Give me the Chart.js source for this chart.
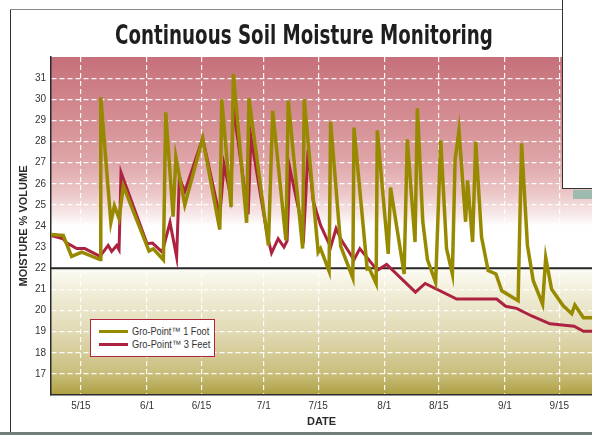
<!DOCTYPE html>
<html lang="en">
<head>
  <meta charset="UTF-8">
  <title>Continuous Soil Moisture Monitoring</title>
  <script src="https://cdn.jsdelivr.net/npm/chart.js@4"></script>
  <style>
  html, body {
    margin: 0;
    padding: 0;
    background: #fff;
    overflow: hidden;
  }
  #page {
    position: relative;
    width: 592px;
    height: 435px;
    font-family: 'Liberation Sans', Arial, sans-serif;
  }
  #dataChart {
    position: absolute;
    left: 0;
    top: 0;
  }
  /* frame and the corner of the next panel */
  .frame-left { position: absolute; left: 10px; top: 9px; width: 1px; height: 424px; background: #333; }
  .frame-top { position: absolute; left: 10px; top: 9px; width: 552px; height: 1px; background: #888; }
  .frame-bottom { position: absolute; left: 0; top: 432px; width: 592px; height: 3px; background: #737d7c; }
  .inset { position: absolute; left: 562px; top: 0; width: 40px; height: 188px; background: #fff;
           border-left: 1.5px solid #333; border-bottom: 1.5px solid #333; }
  .inset-shadow { position: absolute; left: 573px; top: 190px; width: 19px; height: 9px; background: #9fbaaf; }
  #title {
    position: absolute;
    left: 115px;
    top: 21px;
    white-space: nowrap;
    font-family: 'Liberation Sans Narrow', 'DejaVu Sans Condensed', 'Liberation Sans', sans-serif;
    font-weight: bold;
    font-size: 27px;
    line-height: 27px;
    color: #1e1e1e;
    transform-origin: 0 0;
  }
  #legend {
    position: absolute;
    left: 90px;
    top: 319px;
    width: 123px;
    height: 36px;
    background: #fff;
    border: 1px solid #b0243f;
    font-size: 11px;
    color: #333;
  }
  #legend .item { position: absolute; left: 0; height: 13px; line-height: 13px; }
  #legend .swatch { position: absolute; left: 8px; top: 5px; width: 29px; height: 3px; }
  #legend .label { position: absolute; left: 41px; top: 0; white-space: nowrap; transform-origin: 0 50%; }
  </style>
</head>
<body>
  <div id="page">
    <canvas id="dataChart" width="592" height="435"></canvas>
    <div class="frame-left"></div>
    <div class="frame-top"></div>
    <div class="frame-bottom"></div>
    <div class="inset"></div>
    <div class="inset-shadow"></div>
    <div id="title">Continuous Soil Moisture Monitoring</div>
    <div id="legend"></div>
  </div>

  <script>
    // x values are days counted from May 1 (5/15 = 14)
    const tickDays = [14, 31, 45, 61, 75, 92, 106, 123, 137];
    const tickLabels = ['5/15', '6/1', '6/15', '7/1', '7/15', '8/1', '8/15', '9/1', '9/15'];
    const moistureTicks = [17, 18, 19, 20, 21, 22, 23, 24, 25, 26, 27, 28, 29, 30, 31];
    const threshold = 22;

    // Gro-Point 1 Foot
    const footDays = [6.3, 9.45, 11.6, 14.2, 18.9, 19.1, 21.7, 22.6, 23.8, 24.9, 31.5, 32.6, 35.2, 35.8, 37.7,
      38.4, 40.7, 45.3, 49.7, 50.2, 52.6, 53.2, 56.6, 57.2, 62.2, 63.3, 66.7, 67.3, 71.0, 71.4, 75.0, 75.6,
      77.8, 78.2, 80.8, 83.9, 84.2, 87.6, 88.1, 89.9, 90.2, 93.0, 93.6, 97.1, 97.9, 99.9, 100.5, 101.9,
      103.1, 105.2, 106.5, 108.0, 109.5, 110.2, 111.2, 112.9, 113.4, 114.7, 115.5, 117.0, 118.7, 120.7,
      122.2, 126.4, 127.3, 128.8, 130.3, 132.7, 133.5, 135.0, 138.0, 140.2, 141.0, 143.2, 146];
    const footValues = [23.6, 23.55, 22.56, 22.76, 22.41, 30.09, 24.17, 24.96, 24.36, 25.9, 22.81, 22.92, 22.4,
      29.38, 24.44, 27.27, 25.0, 28.15, 23.83, 30.0, 24.9, 31.2, 24.15, 30.05, 23.08, 29.45, 23.32, 29.93,
      22.93, 30.0, 22.76, 22.93, 21.86, 28.93, 23.04, 21.54, 28.66, 21.97, 22.0, 21.28, 28.53, 22.68, 25.82,
      21.73, 28.1, 23.24, 29.57, 24.2, 22.4, 21.33, 28.05, 22.93, 21.73, 27.14, 28.53, 24.2, 26.16, 23.24,
      27.98, 23.48, 21.89, 21.73, 20.93, 20.46, 27.91, 23.08, 21.41, 20.3, 22.5, 21.01, 20.22, 19.85, 20.26,
      19.66, 19.66];

    // Gro-Point 3 Feet
    const feetDays = [6.3, 9.4, 10.3, 12.9, 15.0, 18.9, 21.0, 21.9, 23.2, 23.8, 24.3, 31.0, 32.4, 34.9, 36.9,
      38.6, 39.3, 40.7, 45.3, 49.7, 50.8, 52.5, 53.2, 57.0, 57.7, 61.9, 63.0, 64.7, 66.2, 67.0, 67.7, 71.3,
      72.4, 73.7, 75.6, 78.2, 79.6, 81.0, 84.2, 85.7, 90.2, 92.6, 100.0, 102.5, 110.6, 120.9, 123.2, 126.0,
      129.9, 134.6, 140.8, 143.2, 146];
    const feetValues = [23.55, 23.4, 23.2, 22.93, 22.93, 22.56, 23.08, 22.8, 23.08, 22.88, 26.54, 23.16, 23.19,
      22.76, 24.17, 22.53, 26.3, 25.63, 28.15, 24.44, 26.9, 25.4, 29.6, 24.56, 28.2, 23.56, 22.72, 23.4, 23.0,
      23.3, 26.75, 23.64, 27.6, 25.2, 24.04, 23.0, 23.88, 23.32, 22.4, 22.93, 21.9, 22.18, 20.87, 21.28,
      20.54, 20.54, 20.2, 20.1, 19.74, 19.37, 19.26, 19.02, 19.02];

    const toPoints = (days, vals) => days.map((d, i) => ({ x: d, y: vals[i] }));

    // red-to-white above, white-to-olive below the 22% line
    const zoneBands = {
      id: 'zoneBands',
      beforeDraw(chart) {
        const { ctx, chartArea: a, scales: { y } } = chart;
        const g = ctx.createLinearGradient(0, a.top, 0, a.bottom);
        const stop = (v, c) => {
          const t = (y.getPixelForValue(v) - a.top) / (a.bottom - a.top);
          g.addColorStop(Math.min(1, Math.max(0, t)), c);
        };
        stop(32, '#c6707a');
        stop(29, '#d48e93');
        stop(27, '#dfa6a9');
        stop(25.5, '#ecc8c9');
        stop(24.5, '#f8ebeb');
        stop(24, '#ffffff');
        stop(22, '#ffffff');
        stop(21.99, '#fcfbf4');
        stop(21, '#f2efdc');
        stop(19, '#e1dab4');
        stop(17, '#c9be7c');
        stop(16, '#ae9f40');
        ctx.save();
        ctx.fillStyle = g;
        ctx.fillRect(a.left, a.top, a.right - a.left, a.bottom - a.top);
        ctx.restore();
      },
      beforeDatasetsDraw(chart) {
        const { ctx, chartArea: a, scales: { y } } = chart;
        const py = y.getPixelForValue(threshold);
        ctx.save();
        ctx.strokeStyle = '#262626';
        ctx.lineWidth = 2;
        ctx.beginPath();
        ctx.moveTo(a.left, py);
        ctx.lineTo(a.right, py);
        ctx.stroke();
        ctx.restore();
      }
    };

    const ctx = document.getElementById('dataChart').getContext('2d');
    const chart = new Chart(ctx, {
      type: 'line',
      data: {
        datasets: [
          {
            label: 'Gro-Point\u2122 1 Foot',
            data: toPoints(footDays, footValues),
            borderColor: '#978a00',
            borderWidth: 3.5,
            pointRadius: 0,
            tension: 0,
            fill: false
          },
          {
            label: 'Gro-Point\u2122 3 Feet',
            data: toPoints(feetDays, feetValues),
            borderColor: '#ad2241',
            borderWidth: 3,
            pointRadius: 0,
            tension: 0,
            fill: false
          }
        ]
      },
      options: {
        responsive: false,
        animation: false,
        devicePixelRatio: 1,
        layout: { padding: { top: 57, left: 0, right: 0, bottom: 0 } },
        plugins: {
          legend: { display: false },
          tooltip: { enabled: false }
        },
        scales: {
          x: {
            type: 'linear',
            min: 6.3,
            max: 145.4,
            afterBuildTicks: s => { s.ticks = tickDays.map(v => ({ value: v })); },
            afterFit: s => { s.height = 40; },
            ticks: {
              autoSkip: false,
              maxRotation: 0,
              padding: 5,
              color: '#333',
              font: { family: "'Liberation Sans', Arial, sans-serif", size: 10 },
              callback: v => tickLabels[tickDays.indexOf(v)]
            },
            grid: { color: 'rgba(255,255,255,0.95)', lineWidth: 1.2, drawTicks: false },
            border: { display: true, color: '#2a2a2a', width: 1.5, dash: [5, 3] },
            title: {
              display: true,
              text: 'DATE',
              color: '#2a2a2a',
              padding: { top: 0, bottom: 6 },
              font: { family: "'Liberation Sans', Arial, sans-serif", size: 11, weight: 'bold' }
            }
          },
          y: {
            min: 16,
            max: 32,
            afterBuildTicks: s => { s.ticks = moistureTicks.map(v => ({ value: v })); },
            afterFit: s => { s.width = 51; },
            ticks: {
              padding: 5,
              color: '#333',
              font: { family: "'Liberation Sans', Arial, sans-serif", size: 10 }
            },
            grid: { color: 'rgba(255,255,255,0.95)', lineWidth: 1.2, drawTicks: false },
            border: { display: true, color: '#2a2a2a', width: 1.5, dash: [5, 3] },
            title: {
              display: true,
              text: 'MOISTURE % VOLUME',
              color: '#2a2a2a',
              padding: { top: 17, bottom: 0 },
              font: { family: "'Liberation Sans', Arial, sans-serif", size: 11, weight: 'bold' }
            }
          }
        }
      },
      plugins: [zoneBands]
    });

    // fit the condensed title to the width it takes in the original
    const title = document.getElementById('title');
    title.style.transform = 'scaleX(' + (378 / title.offsetWidth) + ')';

    // legend box in the lower left of the plot
    const legend = document.getElementById('legend');
    chart.data.datasets.forEach((ds, i) => {
      const item = document.createElement('div');
      item.className = 'item';
      item.style.top = (5 + i * 13.3) + 'px';
      item.style.width = '100%';
      item.innerHTML = '<span class="swatch" style="background:' + ds.borderColor + '"></span>' +
        '<span class="label">' + ds.label + '</span>';
      legend.appendChild(item);
    });
    // the original labels are set in a narrow face, squeeze them to the same width
    legend.querySelectorAll('.label').forEach(el => {
      const w = el.textContent.endsWith('Foot') ? 77 : 78;
      el.style.transform = 'scaleX(' + (w / el.offsetWidth) + ')';
    });
  </script>
</body>
</html>
